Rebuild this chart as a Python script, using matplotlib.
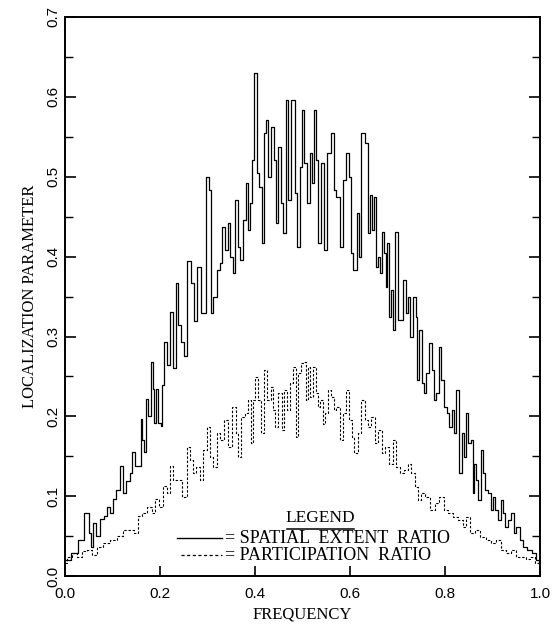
import matplotlib
matplotlib.use("Agg")
import matplotlib.pyplot as plt
from matplotlib.ticker import MultipleLocator

# spatial extent ratio (solid)
ser_x = [0.0, 0.025, 0.032, 0.047, 0.053, 0.056, 0.063, 0.070, 0.077, 0.088,
         0.091, 0.098, 0.105, 0.112, 0.119, 0.126, 0.133, 0.140, 0.144, 0.151,
         0.158, 0.161, 0.165, 0.168, 0.172, 0.179, 0.182, 0.187, 0.189, 0.193,
         0.199, 0.204, 0.207, 0.212, 0.218, 0.225, 0.232, 0.235, 0.242, 0.249,
         0.253, 0.260, 0.270, 0.274, 0.284, 0.291, 0.302, 0.305, 0.309, 0.316,
         0.323, 0.330, 0.333, 0.340, 0.346, 0.351, 0.356, 0.362, 0.367, 0.370,
         0.379, 0.383, 0.386, 0.393, 0.396, 0.402, 0.407, 0.412, 0.417, 0.421,
         0.426, 0.430, 0.438, 0.442, 0.447, 0.451, 0.457, 0.463, 0.467, 0.474,
         0.480, 0.488, 0.491, 0.497, 0.501, 0.507, 0.512, 0.518, 0.522, 0.526,
         0.531, 0.535, 0.543, 0.547, 0.556, 0.564, 0.568, 0.575, 0.583, 0.589,
         0.596, 0.600, 0.604, 0.611, 0.617, 0.621, 0.627, 0.636, 0.640, 0.644,
         0.648, 0.653, 0.657, 0.661, 0.665, 0.670, 0.674, 0.676, 0.680, 0.684,
         0.690, 0.693, 0.698, 0.703, 0.709, 0.714, 0.720, 0.724, 0.730, 0.735,
         0.741, 0.743, 0.749, 0.754, 0.758, 0.764, 0.770, 0.775, 0.779, 0.785,
         0.789, 0.796, 0.802, 0.806, 0.813, 0.817, 0.821, 0.825, 0.832, 0.838,
         0.842, 0.846, 0.851, 0.857, 0.859, 0.863, 0.867, 0.872, 0.878, 0.882,
         0.888, 0.893, 0.899, 0.903, 0.909, 0.914, 0.920, 0.924, 0.930, 0.935,
         0.943, 0.947, 0.954, 0.960, 0.968, 0.979, 0.989, 0.996, 1.0]
ser_y = [0.020, 0.029, 0.045, 0.079, 0.054, 0.037, 0.066, 0.050, 0.071, 0.075,
         0.087, 0.079, 0.096, 0.108, 0.138, 0.104, 0.119, 0.129, 0.155, 0.138,
         0.138, 0.197, 0.171, 0.155, 0.222, 0.201, 0.268, 0.234, 0.192, 0.234,
         0.192, 0.188, 0.239, 0.293, 0.264, 0.331, 0.260, 0.367, 0.315, 0.293,
         0.276, 0.395, 0.367, 0.320, 0.387, 0.329, 0.500, 0.483, 0.329, 0.349,
         0.383, 0.392, 0.437, 0.408, 0.442, 0.400, 0.379, 0.471, 0.412, 0.396,
         0.446, 0.492, 0.433, 0.467, 0.521, 0.630, 0.505, 0.487, 0.417, 0.555,
         0.571, 0.500, 0.562, 0.521, 0.442, 0.537, 0.467, 0.429, 0.596, 0.471,
         0.596, 0.480, 0.412, 0.512, 0.583, 0.517, 0.467, 0.530, 0.492, 0.583,
         0.521, 0.417, 0.517, 0.408, 0.530, 0.555, 0.483, 0.475, 0.412, 0.496,
         0.530, 0.500, 0.404, 0.383, 0.454, 0.400, 0.555, 0.542, 0.429, 0.477,
         0.433, 0.475, 0.387, 0.400, 0.379, 0.431, 0.404, 0.362, 0.417, 0.324,
         0.358, 0.308, 0.431, 0.321, 0.321, 0.371, 0.329, 0.350, 0.299, 0.350,
         0.324, 0.245, 0.308, 0.242, 0.229, 0.254, 0.292, 0.258, 0.220, 0.229,
         0.287, 0.245, 0.212, 0.204, 0.187, 0.208, 0.179, 0.233, 0.129, 0.179,
         0.149, 0.204, 0.167, 0.170, 0.104, 0.141, 0.120, 0.095, 0.158, 0.129,
         0.108, 0.104, 0.083, 0.099, 0.083, 0.070, 0.095, 0.079, 0.061, 0.070,
         0.079, 0.054, 0.061, 0.045, 0.036, 0.033, 0.029, 0.020, 0.015]

# participation ratio (dashed)
pr_x = [0.0, 0.011, 0.021, 0.032, 0.042, 0.053, 0.063, 0.074, 0.088, 0.102,
        0.116, 0.130, 0.140, 0.151, 0.158, 0.168, 0.179, 0.186, 0.193, 0.204,
        0.211, 0.218, 0.225, 0.232, 0.242, 0.253, 0.260, 0.267, 0.274, 0.280,
        0.288, 0.295, 0.302, 0.309, 0.316, 0.323, 0.330, 0.339, 0.347, 0.358,
        0.362, 0.368, 0.375, 0.383, 0.389, 0.393, 0.398, 0.404, 0.410, 0.417,
        0.423, 0.430, 0.436, 0.440, 0.446, 0.453, 0.459, 0.465, 0.469, 0.478,
        0.484, 0.488, 0.495, 0.501, 0.505, 0.509, 0.514, 0.520, 0.526, 0.530,
        0.535, 0.541, 0.545, 0.552, 0.556, 0.564, 0.568, 0.575, 0.583, 0.589,
        0.596, 0.602, 0.606, 0.613, 0.619, 0.627, 0.636, 0.642, 0.648, 0.657,
        0.663, 0.670, 0.678, 0.688, 0.695, 0.701, 0.709, 0.720, 0.726, 0.733,
        0.741, 0.747, 0.754, 0.764, 0.773, 0.783, 0.794, 0.800, 0.811, 0.821,
        0.832, 0.842, 0.848, 0.859, 0.869, 0.880, 0.891, 0.901, 0.912, 0.922,
        0.933, 0.943, 0.954, 0.964, 0.975, 0.985, 0.996, 1.0]
pr_y = [0.016, 0.024, 0.029, 0.024, 0.031, 0.033, 0.026, 0.037, 0.041, 0.045,
        0.050, 0.058, 0.058, 0.054, 0.075, 0.079, 0.087, 0.079, 0.096, 0.087,
        0.113, 0.104, 0.138, 0.121, 0.120, 0.099, 0.162, 0.145, 0.129, 0.137,
        0.120, 0.158, 0.187, 0.149, 0.137, 0.179, 0.170, 0.195, 0.162, 0.212,
        0.179, 0.149, 0.199, 0.204, 0.220, 0.167, 0.220, 0.249, 0.220, 0.179,
        0.258, 0.220, 0.237, 0.208, 0.187, 0.229, 0.183, 0.233, 0.208, 0.242,
        0.262, 0.174, 0.254, 0.267, 0.268, 0.220, 0.262, 0.224, 0.262, 0.229,
        0.212, 0.220, 0.191, 0.204, 0.233, 0.224, 0.208, 0.212, 0.170, 0.204,
        0.233, 0.195, 0.174, 0.154, 0.179, 0.220, 0.195, 0.187, 0.199, 0.167,
        0.183, 0.154, 0.162, 0.141, 0.170, 0.137, 0.129, 0.133, 0.141, 0.129,
        0.112, 0.095, 0.104, 0.099, 0.083, 0.091, 0.099, 0.083, 0.079, 0.074,
        0.070, 0.061, 0.074, 0.054, 0.058, 0.049, 0.045, 0.041, 0.045, 0.033,
        0.029, 0.033, 0.024, 0.024, 0.022, 0.024, 0.016, 0.014]

x_ticks = [0.0, 0.2, 0.4, 0.6, 0.8, 1.0]
x_labels = ["0.0", "0.2", "0.4", "0.6", "0.8", "1.0"]
y_ticks = [0.0, 0.1, 0.2, 0.3, 0.4, 0.5, 0.6, 0.7]
y_labels = ["0.0", "0.1", "0.2", "0.3", "0.4", "0.5", "0.6", "0.7"]

serif = "Liberation Serif"
sans = "Liberation Sans"

fig = plt.figure(figsize=(5.59, 6.29), dpi=100)
ax = fig.add_axes([0.116, 0.084, 0.850, 0.889])

ax.plot(ser_x, ser_y, color="black", lw=0.9, drawstyle="steps-mid")
ax.plot(pr_x, pr_y, color="black", lw=0.8, ls=(0, (2.2, 1.6)), drawstyle="steps-mid")

ax.set_xlim(0, 1.0)
ax.set_ylim(0, 0.7)
ax.set_xticks(x_ticks)
ax.set_xticklabels(x_labels, fontfamily=sans, fontsize=11)
ax.set_yticks(y_ticks)
ax.set_yticklabels(y_labels, fontfamily=sans, fontsize=11, rotation=90, va="center")
ax.yaxis.set_minor_locator(MultipleLocator(0.05))
ax.tick_params(axis="both", which="both", direction="in", top=False)
ax.tick_params(axis="y", which="both", right=True)
ax.tick_params(axis="y", which="major", length=8, width=1.2)
ax.tick_params(axis="y", which="minor", length=6, width=1.0)
ax.tick_params(axis="x", which="major", length=7, width=1.2, pad=8)
for s in ax.spines.values():
    s.set_linewidth(1.4)

ax.set_xlabel("FREQUENCY", fontfamily=serif, fontsize=12, labelpad=4)
ax.set_ylabel("LOCALIZATION PARAMETER", fontfamily=serif, fontsize=12, labelpad=6)

# hand drawn legend (underline drawn in figure pixels below the heading)
ax.text(0.537, 0.104, "LEGEND", transform=ax.transAxes, fontfamily=serif,
        fontsize=12.5, ha="center", va="center")
fig.add_artist(plt.Line2D([287 / 559, 354 / 559], [1 - 529 / 629, 1 - 529 / 629],
                          transform=fig.transFigure, color="black", lw=1.1))
ax.plot([0.235, 0.330], [0.068, 0.068], transform=ax.transAxes, color="black", lw=1.0)
ax.plot([0.245, 0.330], [0.037, 0.037], transform=ax.transAxes, color="black", lw=0.9,
        ls=(0, (2.5, 2)))
ax.text(0.338, 0.068, "= SPATIAL  EXTENT  RATIO", transform=ax.transAxes,
        fontfamily=serif, fontsize=13, va="center")
ax.text(0.338, 0.037, "= PARTICIPATION  RATIO", transform=ax.transAxes,
        fontfamily=serif, fontsize=13, va="center")

fig.savefig("out.png", dpi=100)
